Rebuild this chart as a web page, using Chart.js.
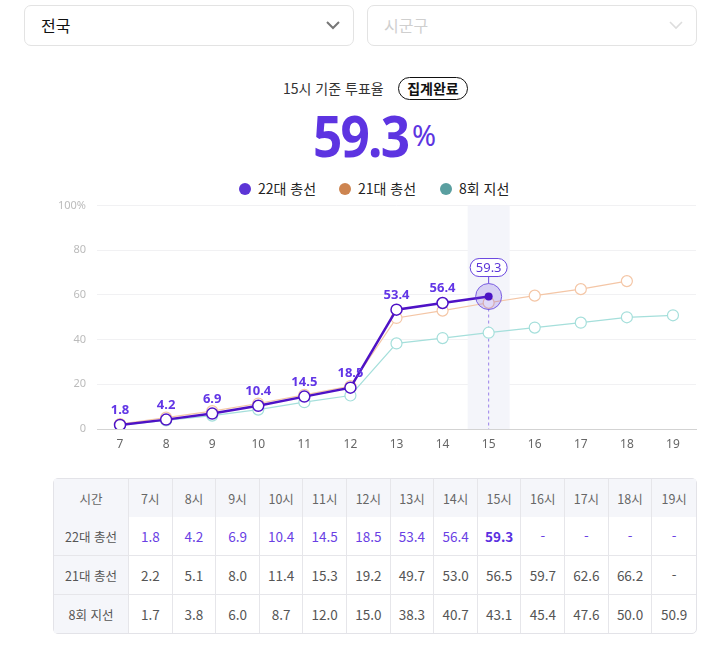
<!DOCTYPE html>
<html lang="ko">
<head>
<meta charset="utf-8">
<script src="https://cdn.jsdelivr.net/npm/chart.js"></script>
<style>
  html, body { margin:0; padding:0; background:#fff; }
  body { width:724px; height:648px; position:relative; overflow:hidden;
         font-family:"Noto Sans CJK KR","Noto Sans",sans-serif; color:#222; }
  .sel { position:absolute; top:5px; height:41px; width:330px; border:1px solid #e3e3e3;
         border-radius:7px; box-sizing:border-box; font-size:16px; line-height:39px; padding-left:16px; }
  .sel svg { position:absolute; right:12px; top:14px; }
  #title { position:absolute; left:283px; top:77px; font-size:14px; line-height:23px; color:#333; white-space:nowrap; }
  #title .badge { position:absolute; left:115px; top:0; width:70px; height:23px; box-sizing:border-box;
                  border:1.5px solid #111; border-radius:12px; text-align:center;
                  font-weight:bold; color:#111; line-height:20px; }
  #big { position:absolute; left:313px; top:100px; color:#5d34e1; line-height:70px; white-space:nowrap; }
  #big b { display:inline-block; font-size:57px; letter-spacing:-2px; transform:scaleX(0.9); transform-origin:left;
           font-family:"Noto Sans","Noto Sans CJK KR",sans-serif; }
  #big span { position:absolute; left:99px; top:0; font-size:29px; font-family:"Noto Sans",sans-serif; }
  #legend { position:absolute; top:179px; left:239px; font-size:14px; line-height:18px; color:#222; white-space:nowrap; }
  #legend .it { position:absolute; top:0; }
  #legend i { display:inline-block; width:12px; height:12px; border-radius:50%; vertical-align:-1px; margin-right:7px; }
  #chartBox { position:absolute; left:55px; top:188px; width:648px; height:270px; }
  table { position:absolute; left:53px; top:478px; width:644px; border-collapse:separate; border-spacing:0;
          border:1px solid #e3e3e8; border-radius:5px; font-size:13.5px; color:#555; table-layout:fixed; }
  td, th { height:38px; text-align:center; border-right:1px solid #e6e6ea; border-bottom:1px solid #e6e6ea;
           padding:0; font-weight:normal; }
  tr td:last-child, tr th:last-child { border-right:none; }
  tr:last-child td, tr:last-child th { border-bottom:none; }
  thead th { background:#f5f6fa; font-size:12.5px; color:#666; }
  tbody th { background:#f5f6fa; font-size:12.5px; color:#555; }
  td.p { color:#6a3fe4; }
  td.p.cur { font-weight:bold; color:#5a2fe0; }
</style>
</head>
<body>

<div class="sel" style="left:24px;color:#111;">전국
  <svg width="16" height="10" viewBox="0 0 16 10"><path d="M2 2 L8 8 L14 2" fill="none" stroke="#777" stroke-width="2"/></svg>
</div>
<div class="sel" style="left:367px;color:#cfcfcf;">시군구
  <svg width="16" height="10" viewBox="0 0 16 10"><path d="M2 2 L8 8 L14 2" fill="none" stroke="#ddd" stroke-width="1.6"/></svg>
</div>

<div id="title">15시 기준 투표율 <span class="badge">집계완료</span></div>
<div id="big"><b>59.3</b><span>%</span></div>

<div id="legend"></div>

<div id="chartBox"><canvas id="turnout"></canvas></div>

<table id="tbl"></table>

<script>
// 🔹 DATA
const hours = ['7','8','9','10','11','12','13','14','15','16','17','18','19'];
const seriesNames = ['22대 총선','21대 총선','8회 지선'];
const vote22 = [1.8, 4.2, 6.9, 10.4, 14.5, 18.5, 53.4, 56.4, 59.3, null, null, null, null];
const vote21 = [2.2, 5.1, 8.0, 11.4, 15.3, 19.2, 49.7, 53.0, 56.5, 59.7, 62.6, 66.2, null];
const local8 = [1.7, 3.8, 6.0, 8.7, 12.0, 15.0, 38.3, 40.7, 43.1, 45.4, 47.6, 50.0, 50.9];
const yTicks = [0, 20, 40, 60, 80, 100];
const currentIdx = 8; // 15시

const legendColors = ['#5c35d6', '#cd8450', '#5a9fa0'];
const lineColors = ['#4e12c6', '#f4c6a6', '#a5dfdb'];

// 🔹 LEGEND
const legend = document.getElementById('legend');
const legendLeft = [0, 100, 201];
seriesNames.forEach((n, i) => {
  legend.innerHTML += `<span class="it" style="left:${legendLeft[i]}px"><i style="background:${legendColors[i]}"></i>${n}</span>`;
});

// 🔹 TABLE
function fmt(v) { return v === null ? '-' : v.toFixed(1); }
const tbl = document.getElementById('tbl');
let html = '<colgroup><col style="width:75px">' + hours.map(() => '<col>').join('') + '</colgroup>';
html += '<thead><tr><th>시간</th>' + hours.map(h => `<th>${h}시</th>`).join('') + '</tr></thead><tbody>';
[vote22, vote21, local8].forEach((arr, r) => {
  html += `<tr><th>${seriesNames[r]}</th>`;
  arr.forEach((v, i) => {
    let cls = r === 0 ? 'p' : '';
    if (r === 0 && i === currentIdx) cls += ' cur';
    html += `<td class="${cls}">${fmt(v)}</td>`;
  });
  html += '</tr>';
});
html += '</tbody>';
tbl.innerHTML = html;

// 🔹 PLUGINS
const highlight = {
  id: 'highlight',
  beforeDatasetsDraw(chart) {
    const { ctx, chartArea, scales } = chart;
    const x = scales.x.getPixelForValue(currentIdx);
    const y = scales.y.getPixelForValue(vote22[currentIdx]);
    ctx.save();
    ctx.fillStyle = '#f4f5fa';
    ctx.fillRect(x - 21, chartArea.top, 42, chartArea.bottom - chartArea.top);
    ctx.strokeStyle = '#9a82ea';
    ctx.lineWidth = 1;
    ctx.setLineDash([3, 3]);
    ctx.beginPath();
    ctx.moveTo(x, y);
    ctx.lineTo(x, chartArea.bottom);
    ctx.stroke();
    ctx.restore();
  },
  afterDatasetsDraw(chart) {
    const { ctx, scales } = chart;
    const meta = chart.getDatasetMeta(0);
    ctx.save();
    // value labels
    ctx.font = 'bold 13px "Noto Sans","Noto Sans CJK KR",sans-serif';
    ctx.fillStyle = '#6236e6';
    ctx.textAlign = 'center';
    ctx.textBaseline = 'bottom';
    meta.data.forEach((pt, i) => {
      const v = vote22[i];
      if (v === null || i === currentIdx) return;
      ctx.fillText(v.toFixed(1), pt.x, pt.y - 8);
    });
    // current point
    const x = scales.x.getPixelForValue(currentIdx);
    const y = scales.y.getPixelForValue(vote22[currentIdx]);
    ctx.beginPath();
    ctx.arc(x, y, 13, 0, Math.PI * 2);
    ctx.fillStyle = 'rgba(98,64,220,0.2)';
    ctx.fill();
    ctx.strokeStyle = 'rgba(98,64,220,0.8)';
    ctx.lineWidth = 1;
    ctx.stroke();
    ctx.beginPath();
    ctx.arc(x, y, 4, 0, Math.PI * 2);
    ctx.fillStyle = '#4a12c4';
    ctx.fill();
    // callout
    ctx.strokeStyle = '#6b48e0';
    ctx.beginPath();
    ctx.moveTo(x, y - 13);
    ctx.lineTo(x, y - 20);
    ctx.stroke();
    const w = 37, h = 18, top = y - 38;
    ctx.beginPath();
    ctx.roundRect(x - w / 2, top, w, h, 9);
    ctx.fillStyle = '#fff';
    ctx.fill();
    ctx.stroke();
    ctx.font = '13px "Noto Sans","Noto Sans CJK KR",sans-serif';
    ctx.fillStyle = '#5b35d8';
    ctx.textBaseline = 'middle';
    ctx.fillText(vote22[currentIdx].toFixed(1), x, top + h / 2 + 1);
    ctx.restore();
  }
};

// 🔹 CHART
new Chart(document.getElementById('turnout'), {
  type: 'line',
  data: {
    labels: hours,
    datasets: [
      { label: seriesNames[0], data: vote22, borderColor: lineColors[0], borderWidth: 2.5,
        pointBackgroundColor: '#fff', pointBorderColor: lineColors[0], pointBorderWidth: 1.5,
        pointRadius: vote22.map((v, i) => i === currentIdx ? 0 : 5.5) },
      { label: seriesNames[1], data: vote21, borderColor: lineColors[1], borderWidth: 1.2,
        pointBackgroundColor: '#fff', pointBorderColor: lineColors[1], pointBorderWidth: 1.2, pointRadius: 5.5 },
      { label: seriesNames[2], data: local8, borderColor: lineColors[2], borderWidth: 1.2,
        pointBackgroundColor: '#fff', pointBorderColor: lineColors[2], pointBorderWidth: 1.2, pointRadius: 5.5 }
    ]
  },
  options: {
    responsive: true,
    maintainAspectRatio: false,
    animation: false,
    layout: { padding: { top: 3, right: 1, left: 0, bottom: 0 } },
    plugins: { legend: { display: false }, tooltip: { enabled: false } },
    scales: {
      x: {
        offset: true,
        grid: { display: false, drawTicks: false },
        border: { color: '#d3d3d3', width: 1 },
        ticks: { color: '#666', padding: 8, font: { size: 12, family: '"Noto Sans", sans-serif' } },
        afterFit(s) { s.height = 29; }
      },
      y: {
        min: 0, max: 100,
        afterBuildTicks(s) { s.ticks = yTicks.map(v => ({ value: v })); },
        grid: { color: '#f1f1f3', drawTicks: false },
        border: { display: false },
        ticks: { color: '#bbb', padding: 11, font: { size: 11, family: '"Noto Sans", sans-serif' },
                 callback: v => v === 100 ? '100%' : v },
        afterFit(s) { s.width = 42; }
      }
    }
  },
  plugins: [highlight]
});
</script>
</body>
</html>
